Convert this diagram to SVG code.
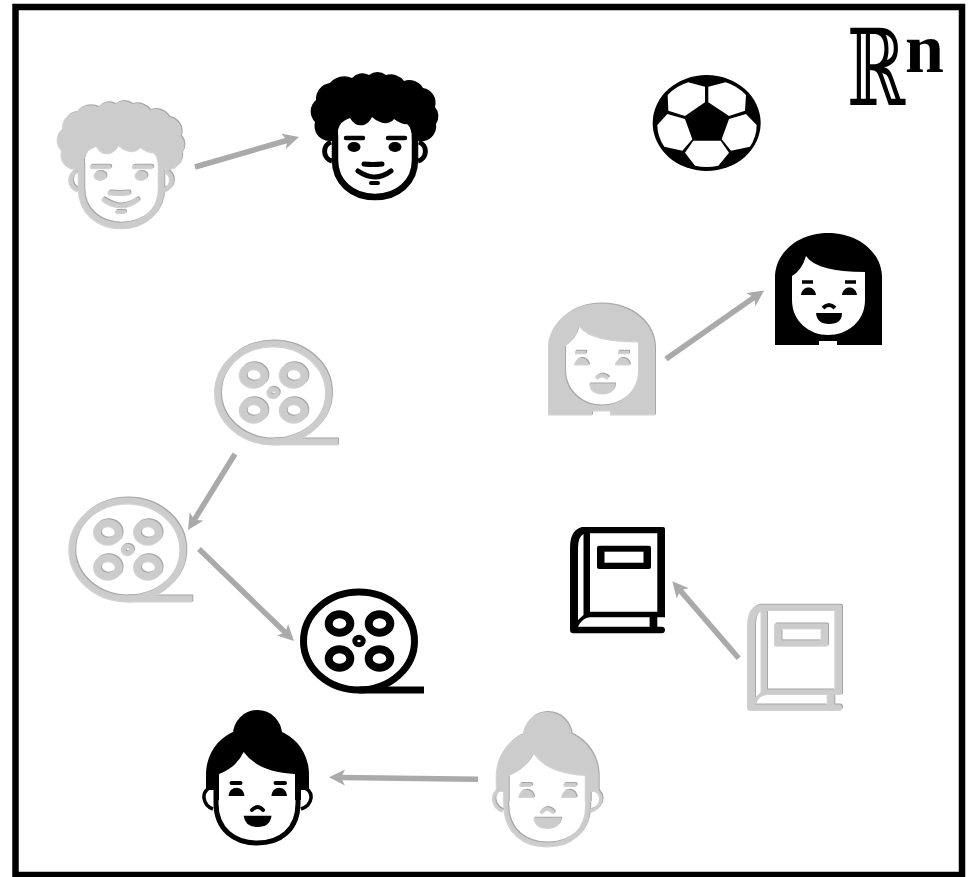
<svg xmlns="http://www.w3.org/2000/svg" width="972" height="877" viewBox="0 0 972 877">
<style>
.k{color:#000}.g{color:#ccc;filter:url(#edge)}
.f{fill:currentColor}.w{fill:#fff}.s{fill:none;stroke:currentColor}.r{stroke-linecap:round;stroke-linejoin:round}
.arrow{fill:none;stroke:#aaa;stroke-width:5.5;marker-end:url(#head)}
</style>
<defs>
<filter id="edge" x="-5%" y="-5%" width="110%" height="110%" color-interpolation-filters="sRGB">
<feFlood flood-color="#fff" result="bg"/>
<feMerge result="flat"><feMergeNode in="bg"/><feMergeNode in="SourceGraphic"/></feMerge>
<feOffset in="SourceGraphic" dx="-1" dy="1" result="moved"/>
<feMerge result="flat2"><feMergeNode in="bg"/><feMergeNode in="moved"/></feMerge>
<feBlend in="flat" in2="flat2" mode="difference" result="grad"/>
<feColorMatrix in="grad" type="matrix" values="0 0 0 0 0 0 0 0 0 0 0 0 0 0 0 0.900 0 0 0 0" result="line"/>
<feMerge><feMergeNode in="flat"/><feMergeNode in="line"/></feMerge>
</filter>
<marker id="head" markerUnits="userSpaceOnUse" markerWidth="18" markerHeight="18" refX="5" refY="8" orient="auto"><path d="M0 0L16 8L0 16L4 8Z" fill="#aaa"/></marker>
<g id="curly">
<path class="f" d="M329 141A15 15 0 0 1 315 122A15 15 0 0 1 316 100A16 16 0 0 1 330 83A18 18 0 0 1 352 78A14 14 0 0 1 369 75A14 14 0 0 1 386 75A17 17 0 0 1 404 81A16 16 0 0 1 423 88A15 15 0 0 1 435 107A14 14 0 0 1 436 124A15 15 0 0 1 424 141Z"/>
<path class="w" d="M338 140V130Q340 121 350 118Q355 127 364 125Q370 122 372 117Q380 124 387 123Q392 122 394 119Q402 125 407 124Q412 128 412 140V160C412 180 396 194 375 194C354 194 338 180 338 160Z"/>
<path class="s" stroke-width="6.500" d="M335 135V160C335 182 352 197 375 197C398 197 415 182 415 160V135"/>
<path class="s" stroke-width="5" d="M331 142A10 10 0 0 0 332 161M419 142A10 10 0 0 1 418 161"/>
<path class="s r" stroke-width="4.500" d="M346 138H363M388 138H405"/>
<ellipse class="f" cx="354" cy="147" rx="6.500" ry="5"/><ellipse class="f" cx="395" cy="147" rx="6.500" ry="5"/>
<path class="s r" stroke-width="5" d="M364 164Q373 165 382 164"/>
<path class="s r" stroke-width="5" d="M358 171Q375 183 391 171"/>
<path class="s r" stroke-width="4" d="M371 183H378"/>
</g>
<g id="longhair">
<path class="f" d="M775 345V277C775 254 797 233 828 233C860 233 882 254 882 277V345H837V341H819V345Z"/>
<path class="w" d="M792 276Q802 270 806 256Q817 272 865 272V300C865 322 847 335 828 335C810 335 792 322 792 300Z"/>
<path class="s" stroke-width="3.500" d="M802 282H813M845 282H856"/>
<path class="f" d="M801 295C802 285 815 285 816 295ZM842 295C843 285 856 285 857 295Z"/>
<path class="s" stroke-width="4" d="M823 308Q829 302 835 308"/>
<path class="f" d="M816 313H842Q842 324 829 324Q817 324 816 313Z"/>
</g>
<g id="reel">
<ellipse class="s" stroke-width="7" cx="359" cy="641" rx="55.500" ry="49"/>
<path class="s" stroke-width="7" d="M359 690H424"/>
<g class="s" stroke-width="8">
<ellipse cx="339.500" cy="623.500" rx="10.800" ry="9.300"/><ellipse cx="379.500" cy="623.500" rx="10.800" ry="9.300"/>
<ellipse cx="339.500" cy="658.500" rx="10.800" ry="9.300"/><ellipse cx="379.500" cy="658.500" rx="10.800" ry="9.300"/>
<ellipse cx="359" cy="641" rx="4.200" ry="3.800" stroke-width="5"/>
</g>
</g>
<g id="book">
<path class="f" d="M582 527H663Q665 527 665 529V617.300H657.300V626.700H662Q665 627 665 630Q665 633 662 633.300H573Q570 633 570 630V548Q570 530 582 527Z"/>
<path class="w" d="M578 548Q578 537 583.500 534V615L578 620ZM590 533.300H657.300V611.700H590ZM578 626.700Q582 618 590 617.300H649.600V626.700Z"/>
<rect class="f" x="597" y="545.700" width="54" height="23.300" rx="2"/>
<rect class="w" x="604.500" y="551.700" width="39" height="11"/>
</g>
<g id="bun">
<circle class="f" cx="257.500" cy="734.500" r="24.500"/>
<path class="f" d="M206 775C206 752 220 737 235 731H280C295 737 309 752 309 775V790H301V800H214V790H206Z"/>
<path class="w" d="M219 774Q237 767 243.600 752Q258 772 295 774V803C295 830 280 841 257.500 841C235 841 219 830 219 803Z"/>
<path class="s" stroke-width="5" d="M216 775V803C216 830 235 843 257 843C280 843 298 830 298 803V775"/>
<path class="s" stroke-width="3.500" d="M213 786Q203 790 204 798Q205 806 213 809M301 786Q312 790 311 798Q310 806 301 809"/>
<path class="s r" stroke-width="4" d="M231.500 783H240.500M275.500 783H285"/>
<path class="f" d="M228.600 796C229 785 244 785 244.400 796ZM271.500 796C272 785 286.500 785 287 796Z"/>
<path class="s r" stroke-width="4" d="M252 810Q257.500 804 263 810"/>
<path class="f" d="M243.600 815.700H271.500Q270 827 257.500 827Q245 827 243.600 815.700Z"/>
</g>
</defs>
<rect width="972" height="877" fill="#fff"/>
<rect id="frame" x="15.500" y="7" width="946.500" height="868" fill="none" stroke="#000" stroke-width="6.500"/>
<g id="man-faded" class="g" transform="translate(-253 28)"><use href="#curly"/></g>
<g id="man" class="k"><use href="#curly"/></g>
<g id="ball" class="k" transform="translate(530 20) scale(.33333)">
<ellipse class="f" cx="530" cy="309" rx="162" ry="144"/>
<path class="w" d="M475 187L525 200V247L465 288L415 272L413 225Q440 197 475 187Z"/>
<path class="w" d="M587 187L535 200V247L597 288L645 272L648 225Q620 197 587 187Z"/>
<path class="w" d="M412 282L465 297L487 358L457 392L403 380Q382 350 382 315Z"/>
<path class="w" d="M648 282L597 297L575 358L603 392L660 380Q680 350 680 315Z"/>
<path class="w" d="M490 362H572L597 398L565 437Q530 445 495 437L465 398Z"/>
</g>
<g id="rn"><text transform="translate(847 105) scale(.66 1)" font-family="'DejaVu Serif',serif" font-size="106">ℝ</text><text x="905" y="72" font-family="'Liberation Serif',serif" font-weight="700" font-size="70">n</text></g>
<g id="woman-faded" class="g" transform="translate(-226 69.500)"><use href="#longhair"/></g>
<g id="woman" class="k"><use href="#longhair"/></g>
<g id="reel-faded-1" class="g" transform="translate(-85 -249)"><use href="#reel"/></g>
<g id="reel-faded-2" class="g" transform="translate(-230.700 -92)"><use href="#reel"/></g>
<g id="reel-black" class="k"><use href="#reel"/></g>
<g id="book-black" class="k"><use href="#book"/></g>
<g id="book-faded" class="g" transform="translate(178 76.700)"><use href="#book"/></g>
<g id="bun-black" class="k"><use href="#bun"/></g>
<g id="bun-faded" class="g" transform="translate(290.700 1)"><use href="#bun"/></g>
<g id="connectors">
<path class="arrow" d="M195 167L288.400 140"/>
<path class="arrow" d="M666 359L755 296.800"/>
<path class="arrow" d="M235 454L193.800 520.600"/>
<path class="arrow" d="M199 549L286.100 633.300"/>
<path class="arrow" d="M478 779.300L340 777.500"/>
<path class="arrow" d="M738.700 658.300L679.500 589.600"/>
</g>
</svg>
